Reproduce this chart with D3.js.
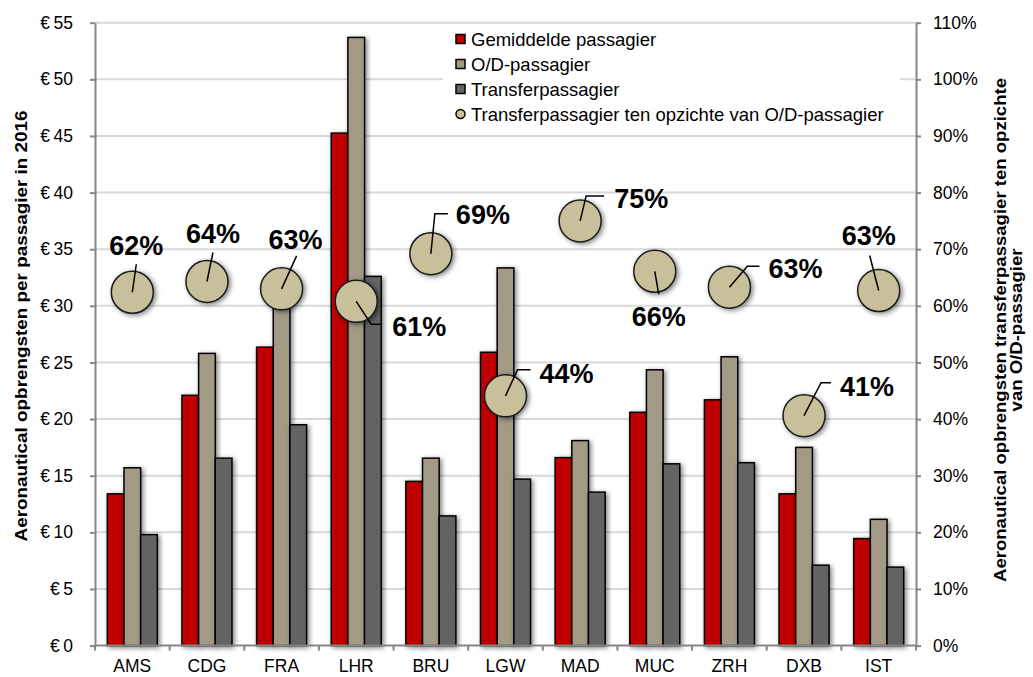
<!DOCTYPE html>
<html>
<head>
<meta charset="utf-8">
<script src="https://cdn.jsdelivr.net/npm/d3@7"></script>
<style>
  body { margin: 0; background: #fff; }
  svg text { font-family: "Liberation Sans", Arial, sans-serif; fill: #000; }
</style>
</head>
<body>
<div id="chart"></div>
<script>
// categories and values
let airports = ["AMS", "CDG", "FRA", "LHR", "BRU", "LGW", "MAD", "MUC", "ZRH", "DXB", "IST"]
let avgPax = [13.4, 22.1, 26.35, 45.25, 14.5, 25.9, 16.6, 20.6, 21.7, 13.4, 9.45]
let odPax = [15.7, 25.8, 31.0, 53.7, 16.55, 33.35, 18.1, 24.35, 25.5, 17.5, 11.15]
let transferPax = [9.8, 16.55, 19.5, 32.6, 11.45, 14.7, 13.55, 16.05, 16.15, 7.1, 6.93]
let transferRatio = [62.4, 64.3, 63.0, 60.8, 69.2, 44.1, 75.0, 66.1, 63.3, 40.6, 62.7]

let seriesNames = ["Gemiddelde passagier", "O/D-passagier", "Transferpassagier"]
let ratioName = "Transferpassagier ten opzichte van O/D-passagier"
let euroTicks = [0, 5, 10, 15, 20, 25, 30, 35, 40, 45, 50, 55]
let pctTicks = [0, 10, 20, 30, 40, 50, 60, 70, 80, 90, 100, 110]

let leftTitle = "Aeronautical opbrengsten per passagier in 2016"
let rightTitle = ["Aeronautical opbrengsten transferpassagier ten opzichte", "van O/D-passagier"]

// where each percentage label sits relative to its circle (layout only)
// lead: leader line points, tx/ty: text position, anchor
let labelLayout = [
  {lead: [[4, -28]], tx: 4, ty: -47, anchor: "middle"},
  {lead: [[6, -29]], tx: 6, ty: -48, anchor: "middle"},
  {lead: [[15, -33]], tx: 14, ty: -50, anchor: "middle"},
  {lead: [[15, 23], [26, 23]], tx: 36, ty: 25, anchor: "start"},
  {lead: [[4, -40], [17, -40]], tx: 25, ty: -39, anchor: "start"},
  {lead: [[12, -26], [25, -26]], tx: 34, ty: -23, anchor: "start"},
  {lead: [[6, -25], [24, -25]], tx: 34, ty: -23, anchor: "start"},
  {lead: [[4, 23]], tx: 4, ty: 45, anchor: "middle"},
  {lead: [[18, -21], [30, -21]], tx: 39, ty: -19, anchor: "start"},
  {lead: [[17, -33], [27, -33]], tx: 36, ty: -29, anchor: "start"},
  {lead: [[-9, -35]], tx: -10, ty: -55, anchor: "middle"}
]

let colors = ["#C00000", "#A39A86", "#646464"]
let circleFill = "#C8C09A"

let svgWidth = 1033
let svgHeight = 677
let plotLeft = 95, plotRight = 916, plotTop = 22.7, plotBottom = 645.6

let svg = d3.select("#chart")
  .append("svg")
  .attr("width", svgWidth)
  .attr("height", svgHeight)

let defs = svg.append("defs")
defs.append("filter")
  .attr("id", "shadow")
  .attr("x", "-40%").attr("y", "-40%")
  .attr("width", "180%").attr("height", "180%")
  .append("feDropShadow")
  .attr("dx", 2).attr("dy", 1.5)
  .attr("stdDeviation", 2.8)
  .attr("flood-color", "#000")
  .attr("flood-opacity", 0.5)

// scales
let x0 = d3.scaleBand()
  .domain(airports)
  .range([plotLeft, plotRight])
  .paddingInner(0.33)
  .paddingOuter(0.165)

let x1 = d3.scaleBand()
  .domain([0, 1, 2])
  .range([0, x0.bandwidth()])

let yLeft = d3.scaleLinear().domain([0, 55]).range([plotBottom, plotTop])
let yRight = d3.scaleLinear().domain([0, 110]).range([plotBottom, plotTop])

// gridlines
svg.append("g")
  .selectAll("line")
  .data(euroTicks.slice(1))
  .enter()
  .append("line")
  .attr("x1", plotLeft).attr("x2", plotRight)
  .attr("y1", d => yLeft(d)).attr("y2", d => yLeft(d))
  .style("stroke", "#D9D9D9")
  .style("stroke-width", 2)

// legend box (covers gridlines)
let legend = svg.append("g")
legend.append("rect")
  .attr("x", 443).attr("y", 27)
  .attr("width", 457).attr("height", 98)
  .style("fill", "#fff")

// bars
let seriesValues = [avgPax, odPax, transferPax]
let barData = []
airports.forEach((a, i) => {
  seriesValues.forEach((vals, s) => barData.push({airport: a, series: s, value: vals[i]}))
})

function setBarAttrs(selection) {
  selection
    .attr("x", d => x0(d.airport) + x1(d.series))
    .attr("y", d => yLeft(d.value))
    .attr("width", x1.bandwidth())
    .attr("height", d => yLeft(0) - yLeft(d.value))
    .style("fill", d => colors[d.series])
    .style("stroke", "#000")
    .style("stroke-width", 1.5)
    .attr("filter", "url(#shadow)")
}

svg.append("g")
  .selectAll("rect")
  .data(barData)
  .enter()
  .append("rect")
  .call(setBarAttrs)

// axes
function styleAxis(g) {
  g.select(".domain").style("stroke", "#868686").style("stroke-width", 2)
  g.selectAll(".tick line").style("stroke", "#868686").style("stroke-width", 2)
  g.selectAll("text").style("font-size", "17.5px").style("fill", "#000")
    .style("font-family", "'Liberation Sans', Arial, sans-serif")
}

svg.append("g")
  .attr("transform", `translate(${plotLeft},0)`)
  .call(d3.axisLeft(yLeft).tickValues(euroTicks).tickSize(5).tickSizeOuter(0)
    .tickPadding(17).tickFormat(d => "€\u2009" + d))
  .call(styleAxis)

svg.append("g")
  .attr("transform", `translate(${plotRight},0)`)
  .call(d3.axisRight(yRight).tickValues(pctTicks).tickSize(5).tickSizeOuter(0)
    .tickPadding(12).tickFormat(d => d + "%"))
  .call(styleAxis)

// category axis: ticks between the groups
let xAxis = svg.append("g")
xAxis.append("line")
  .attr("x1", plotLeft).attr("x2", plotRight)
  .attr("y1", plotBottom).attr("y2", plotBottom)
  .style("stroke", "#868686").style("stroke-width", 2)
let step = x0.step()
let boundaries = airports.map(a => x0(a) - (step - x0.bandwidth()) / 2)
boundaries.push(plotRight)
xAxis.selectAll(".cattick")
  .data(boundaries)
  .enter()
  .append("line")
  .attr("x1", d => d).attr("x2", d => d)
  .attr("y1", plotBottom).attr("y2", plotBottom + 5)
  .style("stroke", "#868686").style("stroke-width", 2)
xAxis.selectAll("text")
  .data(airports)
  .enter()
  .append("text")
  .attr("x", d => x0(d) + x0.bandwidth() / 2)
  .attr("y", 672)
  .attr("text-anchor", "middle")
  .style("font-size", "17.5px")
  .text(d => d)

// ratio circles
let ratioData = airports.map((a, i) => ({
  airport: a,
  value: transferRatio[i],
  label: Math.round(transferRatio[i]) + "%",
  layout: labelLayout[i]
}))

let cx = d => x0(d.airport) + x0.bandwidth() / 2
let cy = d => yRight(d.value)

svg.append("g")
  .selectAll("circle")
  .data(ratioData)
  .enter()
  .append("circle")
  .attr("cx", cx)
  .attr("cy", cy)
  .attr("r", 21)
  .style("fill", circleFill)
  .style("stroke", "#1a1a1a")
  .style("stroke-width", 1.5)
  .attr("filter", "url(#shadow)")

// leader lines
svg.append("g")
  .selectAll("path")
  .data(ratioData)
  .enter()
  .append("path")
  .attr("d", d => {
    let pts = [[cx(d), cy(d)]].concat(d.layout.lead.map(p => [cx(d) + p[0], cy(d) + p[1]]))
    return d3.line()(pts)
  })
  .style("fill", "none")
  .style("stroke", "#000")
  .style("stroke-width", 1.5)

// percentage labels
svg.append("g")
  .selectAll("text")
  .data(ratioData)
  .enter()
  .append("text")
  .attr("x", d => cx(d) + d.layout.tx)
  .attr("y", d => cy(d) + d.layout.ty)
  .attr("dy", "0.36em")
  .attr("text-anchor", d => d.layout.anchor)
  .style("font-size", "27px")
  .style("font-weight", "bold")
  .text(d => d.label)

// legend entries
let legendRows = seriesNames.map((n, i) => ({name: n, color: colors[i], shape: "rect"}))
legendRows.push({name: ratioName, color: circleFill, shape: "circle"})

let rows = legend.selectAll(".row")
  .data(legendRows)
  .enter()
  .append("g")
  .attr("transform", (d, i) => `translate(456, ${39 + i * 25})`)

rows.filter(d => d.shape === "rect")
  .append("rect")
  .attr("x", 0).attr("y", -4.5)
  .attr("width", 9).attr("height", 9)
  .style("fill", d => d.color)
  .style("stroke", "#000").style("stroke-width", 1.5)
rows.filter(d => d.shape === "circle")
  .append("circle")
  .attr("cx", 4.5).attr("cy", 0).attr("r", 4.5)
  .style("fill", d => d.color)
  .style("stroke", "#000").style("stroke-width", 1.5)
rows.append("text")
  .attr("x", 15)
  .attr("y", 0)
  .attr("dy", "0.36em")
  .style("font-size", "18.5px")
  .text(d => d.name)

// axis titles (the reference text is drawn a bit stretched along its length)
svg.append("text")
  .attr("transform", `translate(27, 326) rotate(-90) scale(1.18, 1)`)
  .attr("text-anchor", "middle")
  .style("font-size", "16px")
  .style("font-weight", "bold")
  .text(leftTitle)

svg.append("g")
  .selectAll("text")
  .data(rightTitle)
  .enter()
  .append("text")
  .attr("transform", (d, i) => `translate(${1006 + i * 16}, 330) rotate(-90) scale(1.16, 1)`)
  .attr("text-anchor", "middle")
  .style("font-size", "16px")
  .style("font-weight", "bold")
  .text(d => d)
</script>
</body>
</html>
